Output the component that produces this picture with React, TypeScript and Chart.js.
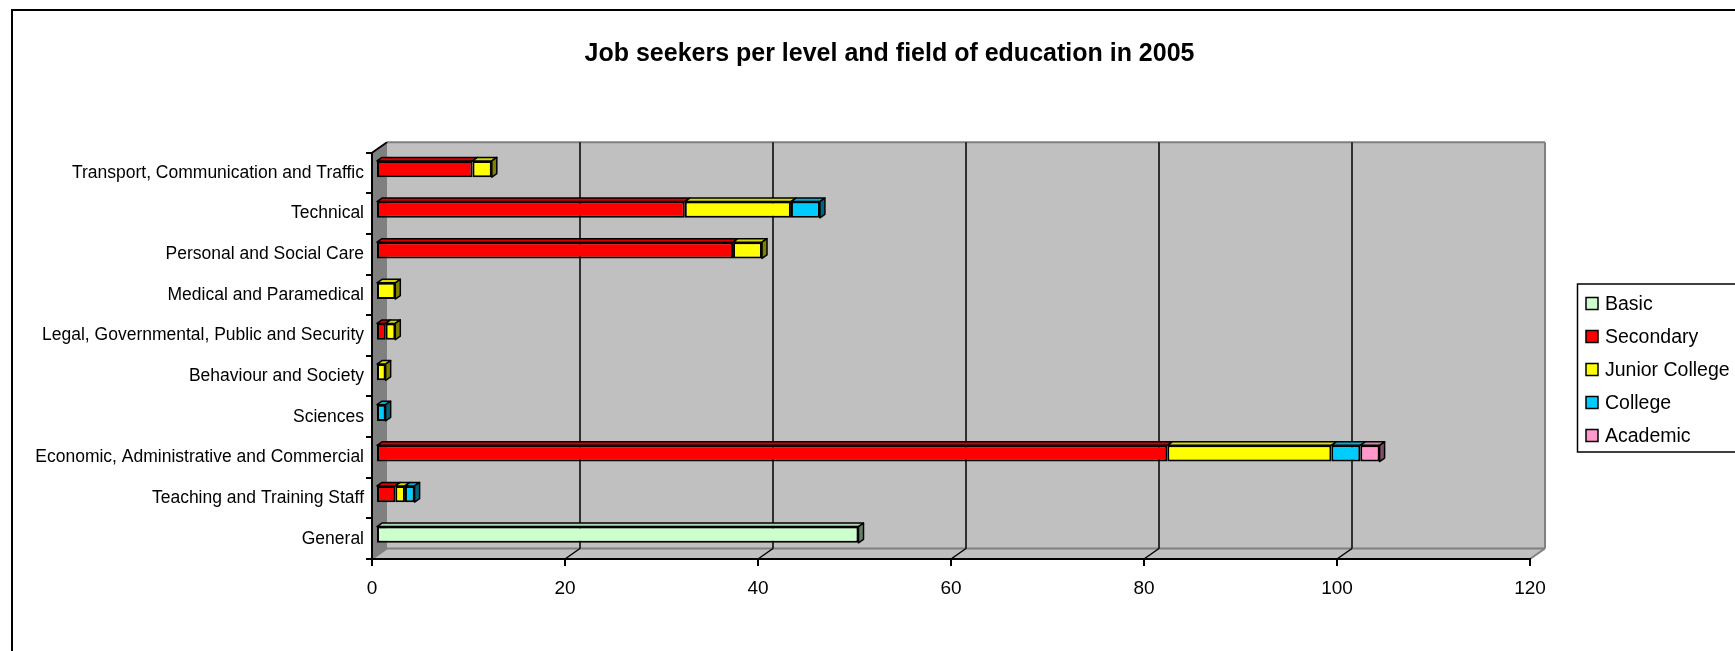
import { useEffect, useRef } from "react";
import { Chart, registerables } from "chart.js";

Chart.register(...registerables);

// ---------- data ----------
const categories = [
  "General",
  "Teaching and Training Staff",
  "Economic, Administrative and Commercial",
  "Sciences",
  "Behaviour and Society",
  "Legal, Governmental, Public and Security",
  "Medical and Paramedical",
  "Personal and Social Care",
  "Technical",
  "Transport, Communication and Traffic",
];
const seriesNames = ["Basic", "Secondary", "Junior College", "College", "Academic"];
const basic = [50, 0, 0, 0, 0, 0, 0, 0, 0, 0];
const secondary = [0, 2, 82, 0, 0, 1, 0, 37, 32, 10];
const juniorCollege = [0, 1, 17, 0, 1, 1, 2, 3, 11, 2];
const college = [0, 1, 3, 1, 0, 0, 0, 0, 3, 0];
const academic = [0, 0, 2, 0, 0, 0, 0, 0, 0, 0];
const xTicks = [0, 20, 40, 60, 80, 100, 120];
const titleText = "Job seekers per level and field of education in 2005";

// ---------- styles ----------
const seriesColors = ["#CCFFCC", "#FF0000", "#FFFF00", "#00CCFF", "#FF99CC"];
const FONT = "'Liberation Sans', Arial, sans-serif";
const WALL_DX = 15;
const WALL_DY = 10.5;
const BAR_DX = 5;
const BAR_DY = 3.5;
const BAR_SHIFT_X = 4;
const BAR_SHIFT_Y = -4;

function shade(hex: string, f: number) {
  const n = parseInt(hex.slice(1), 16);
  const r = Math.round(((n >> 16) & 255) * f);
  const g = Math.round(((n >> 8) & 255) * f);
  const b = Math.round((n & 255) * f);
  return `rgb(${r},${g},${b})`;
}

function poly(ctx: CanvasRenderingContext2D, pts: number[][]) {
  ctx.beginPath();
  ctx.moveTo(pts[0][0], pts[0][1]);
  for (let i = 1; i < pts.length; i++) ctx.lineTo(pts[i][0], pts[i][1]);
  ctx.closePath();
}

function line(ctx: CanvasRenderingContext2D, x1: number, y1: number, x2: number, y2: number) {
  ctx.beginPath();
  ctx.moveTo(x1, y1);
  ctx.lineTo(x2, y2);
  ctx.stroke();
}

const plot3d = {
  id: "plot3d",
  beforeDraw(chart: any) {
    const { ctx, chartArea: a } = chart;
    const xs = chart.scales.x;
    ctx.save();
    ctx.fillStyle = "#FFFFFF";
    ctx.fillRect(0, 0, chart.width, chart.height);
    const bl = a.left + WALL_DX;
    const bt = a.top - WALL_DY;
    const br = a.right + WALL_DX;
    const bb = a.bottom - WALL_DY;
    // back wall
    ctx.fillStyle = "#C0C0C0";
    ctx.fillRect(bl, bt, br - bl, bb - bt);
    // floor
    poly(ctx, [[a.left, a.bottom], [bl, bb], [br, bb], [a.right, a.bottom]]);
    ctx.fillStyle = "#C0C0C0";
    ctx.fill();
    // left wall
    poly(ctx, [[a.left, a.top], [bl, bt], [bl, bb], [a.left, a.bottom]]);
    ctx.fillStyle = "#808080";
    ctx.fill();
    // wall edges
    ctx.strokeStyle = "#808080";
    ctx.lineWidth = 2;
    line(ctx, bl, bt, br, bt);
    line(ctx, br, bt, br, bb);
    line(ctx, bl, bb, br, bb);
    line(ctx, br, bb, a.right, a.bottom);
    line(ctx, a.left, a.bottom, bl, bb);
    // gridlines on back wall and floor
    ctx.strokeStyle = "#000000";
    ctx.lineWidth = 1.5;
    xTicks.forEach((v) => {
      if (v === xTicks[0] || v === xTicks[xTicks.length - 1]) return;
      const px = xs.getPixelForValue(v);
      line(ctx, px + WALL_DX, bt, px + WALL_DX, bb);
      line(ctx, px, a.bottom, px + WALL_DX, bb);
    });
    ctx.lineWidth = 2;
    line(ctx, a.left, a.top, bl, bt);
    ctx.restore();
  },
  beforeDatasetsDraw(chart: any) {
    chart.ctx.save();
    chart.ctx.translate(BAR_SHIFT_X, BAR_SHIFT_Y);
  },
  afterDatasetsDraw(chart: any) {
    const ctx = chart.ctx;
    const n = chart.data.labels.length;
    ctx.lineWidth = 1.5;
    ctx.strokeStyle = "#000000";
    ctx.lineJoin = "round";
    for (let i = 0; i < n; i++) {
      let last: any = null;
      chart.data.datasets.forEach((ds: any, di: number) => {
        if (!chart.isDatasetVisible(di)) return;
        const el = chart.getDatasetMeta(di).data[i];
        if (!el) return;
        const p = el.getProps(["x", "base", "y", "height"], true);
        const l = Math.min(p.x, p.base);
        const r = Math.max(p.x, p.base);
        if (r - l < 0.5) return;
        const t = p.y - p.height / 2;
        const b = p.y + p.height / 2;
        poly(ctx, [[l, t], [l + BAR_DX, t - BAR_DY], [r + BAR_DX, t - BAR_DY], [r, t]]);
        ctx.fillStyle = shade(seriesColors[di], 0.85);
        ctx.fill();
        ctx.stroke();
        last = { r, t, b, c: seriesColors[di] };
      });
      if (last) {
        poly(ctx, [
          [last.r, last.t],
          [last.r + BAR_DX, last.t - BAR_DY],
          [last.r + BAR_DX, last.b - BAR_DY],
          [last.r, last.b],
        ]);
        ctx.fillStyle = shade(last.c, 0.5);
        ctx.fill();
        ctx.stroke();
      }
    }
    ctx.restore();
  },
  afterDraw(chart: any) {
    const ctx = chart.ctx;
    ctx.save();
    // outer frame
    ctx.strokeStyle = "#000000";
    ctx.lineWidth = 2;
    ctx.strokeRect(12, 10, 1800, 800);
    // title
    ctx.fillStyle = "#000000";
    ctx.font = `bold 25px ${FONT}`;
    ctx.textAlign = "center";
    ctx.textBaseline = "middle";
    ctx.fillText(titleText, 889.5, 54);
    // legend
    ctx.lineWidth = 1.5;
    ctx.strokeRect(1577.5, 284, 200, 168);
    ctx.font = `19.5px ${FONT}`;
    ctx.textBaseline = "middle";
    ctx.textAlign = "left";
    seriesNames.forEach((name, i) => {
      const cy = 303.5 + 33 * i;
      ctx.fillStyle = seriesColors[i];
      ctx.fillRect(1586, cy - 6, 12, 12);
      ctx.strokeStyle = "#000000";
      ctx.lineWidth = 1.5;
      ctx.strokeRect(1586, cy - 6, 12, 12);
      ctx.fillStyle = "#000000";
      ctx.fillText(name, 1605, cy + 1);
    });
    ctx.restore();
  },
};

export default function App() {
  const ref = useRef<HTMLCanvasElement | null>(null);
  useEffect(() => {
    document.body.style.margin = "0";
    document.body.style.overflow = "hidden";
    const seriesData = [basic, secondary, juniorCollege, college, academic];
    const chart = new Chart(ref.current as HTMLCanvasElement, {
      type: "bar",
      data: {
        labels: categories,
        datasets: seriesNames.map((name, i) => ({
          label: name,
          data: seriesData[i],
          backgroundColor: seriesColors[i],
          borderColor: "#000000",
          borderWidth: 2,
          borderSkipped: false,
          categoryPercentage: 1,
          barPercentage: 0.4,
        })),
      },
      options: {
        indexAxis: "y",
        responsive: false,
        animation: false,
        devicePixelRatio: 1,
        layout: { padding: { left: 0, right: 205, top: 152.7, bottom: 0 } },
        plugins: {
          legend: { display: false },
          tooltip: { enabled: false },
          title: { display: false },
        },
        scales: {
          x: {
            type: "linear",
            min: 0,
            max: 120,
            stacked: true,
            afterBuildTicks: (s: any) => {
              s.ticks = xTicks.map((v) => ({ value: v }));
            },
            ticks: { color: "#000000", font: { family: FONT, size: 19 }, padding: 11.5 },
            grid: { drawOnChartArea: false, drawTicks: true, tickLength: 7, color: "#000000", lineWidth: 2 },
            border: { display: true, color: "#000000", width: 2 },
            afterFit: (s: any) => {
              s.height = 92;
            },
          },
          y: {
            type: "category",
            reverse: true,
            stacked: true,
            ticks: {
              color: "#000000",
              font: { family: FONT, size: 17.5 },
              padding: 2,
              autoSkip: false,
            },
            grid: { drawOnChartArea: false, drawTicks: true, tickLength: 6, color: "#000000", lineWidth: 2, offset: true },
            border: { display: true, color: "#000000", width: 2 },
            afterFit: (s: any) => {
              s.width = 372;
            },
          },
        },
      } as any,
      plugins: [plot3d],
    });
    return () => chart.destroy();
  }, []);
  return (
    <canvas
      ref={ref}
      width={1735}
      height={651}
      style={{ display: "block", width: "1735px", height: "651px" }}
    />
  );
}
